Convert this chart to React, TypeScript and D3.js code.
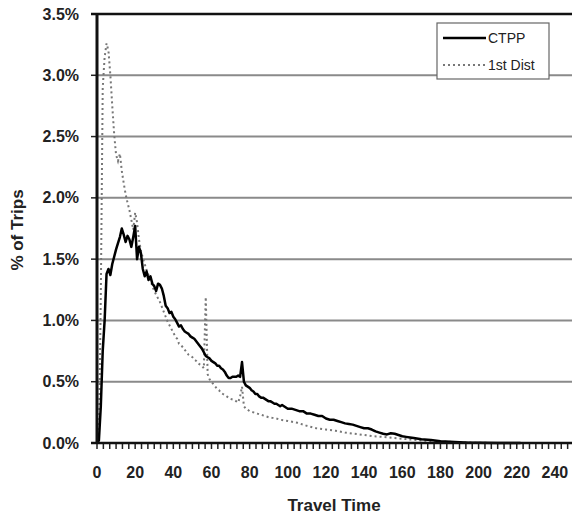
import React from "react";
import * as d3 from "d3";

const ctppMinutes = [0,1,2,3,4,5,6,7,8,9,10,11,12,13,14,15,16,17,18,19,20,21,22,23,24,25,26,27,28,29,30,31,32,33,34,35,36,37,38,39,40,41,42,43,44,45,46,47,48,49,50,51,52,53,54,55,56,57,58,59,60,61,62,63,64,65,66,67,68,69,70,71,72,73,74,75,76,77,78,79,80,81,82,83,84,85,86,87,88,89,90,91,92,93,94,95,96,97,98,99,100,102,104,106,108,110,112,114,116,118,120,122,124,126,128,130,132,134,136,138,140,142,144,146,148,150,152,154,156,158,160,162,164,166,170,175,180,185,190,195,200,210,222];
const ctppPct = [0,0.02,0.3,0.75,1.0,1.38,1.42,1.37,1.46,1.52,1.58,1.63,1.68,1.75,1.70,1.64,1.69,1.66,1.60,1.68,1.77,1.50,1.60,1.55,1.42,1.36,1.40,1.33,1.36,1.30,1.28,1.24,1.30,1.29,1.26,1.20,1.12,1.10,1.06,1.07,1.03,1.01,0.98,0.95,0.96,0.93,0.91,0.90,0.89,0.87,0.86,0.85,0.83,0.81,0.79,0.77,0.74,0.71,0.70,0.69,0.67,0.66,0.65,0.63,0.63,0.61,0.60,0.58,0.55,0.53,0.53,0.54,0.54,0.54,0.55,0.54,0.66,0.50,0.47,0.46,0.45,0.43,0.42,0.40,0.40,0.38,0.37,0.37,0.36,0.35,0.34,0.34,0.33,0.32,0.32,0.31,0.30,0.31,0.30,0.29,0.28,0.28,0.27,0.26,0.26,0.24,0.24,0.23,0.22,0.22,0.20,0.19,0.19,0.18,0.17,0.16,0.155,0.15,0.14,0.13,0.12,0.12,0.11,0.095,0.085,0.075,0.07,0.08,0.075,0.065,0.055,0.05,0.045,0.04,0.03,0.025,0.015,0.01,0.006,0.003,0.002,0.001,0];

const distMinutes = [0,1,2,3,4,5,6,7,8,9,10,11,12,13,14,15,16,17,18,19,20,21,22,23,24,25,26,27,28,29,30,31,32,33,34,35,36,37,38,39,40,41,42,43,44,45,46,47,48,49,50,51,52,53,54,55,56,57,58,59,60,61,62,63,64,65,66,67,68,69,70,71,72,73,74,75,76,77,78,79,80,82,84,86,88,90,92,94,96,98,100,105,110,115,120,125,130,135,140,145,150,160,170,180,190,200,210];
const distPct = [0,0,1.2,2.9,3.15,3.26,3.2,3.0,2.75,2.52,2.35,2.30,2.36,2.22,2.12,2.03,1.96,1.90,1.82,1.74,1.88,1.80,1.66,1.57,1.51,1.46,1.41,1.37,1.33,1.28,1.24,1.21,1.18,1.15,1.11,1.07,1.03,0.99,0.96,0.93,0.90,0.87,0.85,0.81,0.80,0.78,0.76,0.74,0.72,0.71,0.70,0.68,0.67,0.65,0.64,0.63,0.61,1.19,0.56,0.52,0.50,0.48,0.46,0.44,0.43,0.41,0.40,0.39,0.38,0.37,0.36,0.355,0.35,0.34,0.33,0.38,0.46,0.30,0.28,0.27,0.26,0.25,0.24,0.23,0.22,0.21,0.205,0.20,0.19,0.185,0.18,0.165,0.14,0.12,0.11,0.10,0.085,0.075,0.065,0.055,0.05,0.035,0.02,0.012,0.006,0.002,0];

const yTicks = [0, 0.5, 1.0, 1.5, 2.0, 2.5, 3.0, 3.5];
const xTickLabels = [0, 20, 40, 60, 80, 100, 120, 140, 160, 180, 200, 220, 240];
const seriesNames = ["CTPP", "1st Dist"];

export default function App() {
  const W = 572, H = 519;
  const left = 97, top = 14, bottom = 443, right = 574;
  const x = d3.scaleLinear().domain([0, 250]).range([left, right]);
  const y = d3.scaleLinear().domain([0, 3.5]).range([bottom, top]);
  const minorTicks = d3.range(0, 251, 20 / 6);

  const ctppLine = d3.line<number>().x((_, i) => x(ctppMinutes[i])).y((d) => y(d));
  const distLine = d3.line<number>().x((_, i) => x(distMinutes[i])).y((d) => y(d));

  const font = "Liberation Sans, Arial, sans-serif";

  return (
    <svg width={W} height={H} style={{ position: "absolute", left: 0, top: 0, background: "#fff" }} fontFamily={font}>
      <rect x={0} y={0} width={W} height={H} fill="#fff" />
      {yTicks.filter((t) => t > 0 && t < 3.5).map((t) => (
        <line key={"g" + t} x1={left} x2={W} y1={y(t)} y2={y(t)} stroke="#8a8a8a" strokeWidth={2} />
      ))}
      {yTicks.map((t) => (
        <line key={"yt" + t} x1={left - 6} x2={left} y1={y(t)} y2={y(t)} stroke="#222" strokeWidth={1.5} />
      ))}
      {minorTicks.map((t, i) => (
        <line key={"xt" + i} x1={x(t)} x2={x(t)} y1={bottom} y2={bottom + 6} stroke="#222" strokeWidth={1.5} />
      ))}
      <path d={distLine(distPct) || ""} fill="none" stroke="#777" strokeWidth={2} strokeDasharray="2,3" />
      <path d={ctppLine(ctppPct) || ""} fill="none" stroke="#000" strokeWidth={2.5} strokeLinejoin="round" />
      <line x1={left - 6} x2={W} y1={top} y2={top} stroke="#111" strokeWidth={2.5} />
      <line x1={left - 6} x2={W} y1={bottom} y2={bottom} stroke="#111" strokeWidth={2.5} />
      <line x1={left} x2={left} y1={top} y2={bottom + 1} stroke="#111" strokeWidth={3} />
      {yTicks.map((t) => (
        <text key={"yl" + t} x={79} y={y(t)} dy="0.35em" textAnchor="end" fontSize={16} fontWeight="bold" fill="#222">
          {t.toFixed(1) + "%"}
        </text>
      ))}
      {xTickLabels.map((t) => (
        <text key={"xl" + t} x={x(t)} y={478} textAnchor="middle" fontSize={16} fontWeight="bold" fill="#222">
          {t}
        </text>
      ))}
      <text x={334} y={511} textAnchor="middle" fontSize={17} fontWeight="bold" fill="#222">Travel Time</text>
      <text transform={`translate(23,230) rotate(-90)`} textAnchor="middle" fontSize={17} fontWeight="bold" fill="#222">% of Trips</text>
      <rect x={437} y={23} width={112} height={56} fill="#fff" stroke="#666" strokeWidth={1.2} />
      <line x1={443} x2={486} y1={38} y2={38} stroke="#000" strokeWidth={2.5} />
      <text x={488} y={38} dy="0.35em" fontSize={14} fill="#222">{seriesNames[0]}</text>
      <line x1={443} x2={486} y1={65} y2={65} stroke="#777" strokeWidth={2} strokeDasharray="2,3" />
      <text x={488} y={65} dy="0.35em" fontSize={14} fill="#222">{seriesNames[1]}</text>
    </svg>
  );
}
